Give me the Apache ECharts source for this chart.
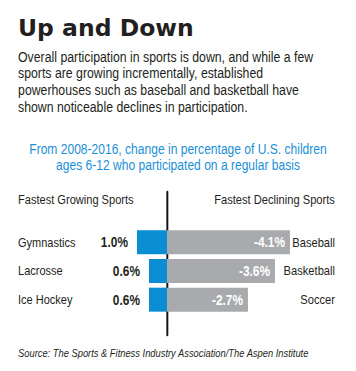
<!DOCTYPE html>
<html>
<head>
<meta charset="utf-8">
<script src="https://cdn.jsdelivr.net/npm/echarts@6/dist/echarts.min.js"></script>
<style>
html,body{margin:0;padding:0;background:#fff;overflow:hidden;width:356px;height:371px;}
#c{width:434px;height:371px;transform:scaleX(0.82028);transform-origin:0 0;}
</style>
</head>
<body>
<div id="c"></div>
<script>
const growingSports = ['Gymnastics', 'Lacrosse', 'Ice Hockey'];
const growthValues = [1.0, 0.6, 0.6];
const decliningSports = ['Baseball', 'Basketball', 'Soccer'];
const declineValues = [-4.1, -3.6, -2.7];

// the page is drawn 434px wide and squeezed to 356px to imitate the condensed type
const SX = 356 / 434;
const FONT = '"Liberation Sans", Arial, sans-serif';
const DARK = '#231f20';
const BLUE = '#0a8dd3';
const GRAY = '#a9aaad';

const chart = echarts.init(document.getElementById('c'), null, {renderer: 'svg', width: 434, height: 371});
chart.setOption({
  backgroundColor: '#fff',
  animation: false,
  graphic: [
    {type: 'text', x: 22, y: 16, scaleX: 1 / SX,
     style: {text: 'Up and Down', fontFamily: '"DejaVu Sans", sans-serif', fontWeight: 'bold', fontSize: 23.5, fill: DARK}}
  ],
  title: [
    {text: 'Overall participation in sports is down, and while a few\nsports are growing incrementally, established\npowerhouses such as baseball and basketball have\nshown noticeable declines in participation.',
     left: 22, top: 48.5, padding: 0,
     textStyle: {fontFamily: FONT, fontWeight: 'normal', fontSize: 15, color: DARK, lineHeight: 16.7}},
    {text: 'From 2008-2016, change in percentage of U.S. children\nages 6-12 who participated on a regular basis',
     left: 'center', top: 140.5, padding: 0,
     textStyle: {fontFamily: FONT, fontWeight: 'normal', fontSize: 14.7, color: '#1b8fd8', lineHeight: 16.4, align: 'center'}},
    {text: 'Fastest Growing Sports', left: 22, top: 192, padding: 0,
     textStyle: {fontFamily: FONT, fontWeight: 'normal', fontSize: 13.5, color: DARK, lineHeight: 16}},
    {text: 'Fastest Declining Sports', right: 25.6, top: 192, padding: 0,
     textStyle: {fontFamily: FONT, fontWeight: 'normal', fontSize: 13.6, color: DARK, lineHeight: 16}},
    {text: 'Source: The Sports & Fitness Industry Association/The Aspen Institute', left: 22, top: 346.5, padding: 0,
     textStyle: {fontFamily: FONT, fontStyle: 'italic', fontWeight: 'normal', fontSize: 11.4, color: DARK, lineHeight: 14}}
  ],
  grid: [
    {left: 20.7, width: 365.7, top: 228, height: 86, containLabel: false},
    {left: 20.7, width: 365.7, top: 192, height: 143, containLabel: false}
  ],
  xAxis: [
    {type: 'value', gridIndex: 0, min: -5, max: 5, show: false},
    {type: 'value', gridIndex: 1, min: -5, max: 5, show: false}
  ],
  yAxis: [
    {type: 'category', gridIndex: 0, data: growingSports, inverse: true, position: 'left',
     axisLine: {show: false, onZero: false}, axisTick: {show: false}, splitLine: {show: false},
     axisLabel: {align: 'left', margin: -1.3, fontFamily: FONT, fontSize: 13.4, color: DARK}},
    {type: 'category', gridIndex: 0, data: decliningSports, inverse: true, position: 'right',
     axisLine: {show: false, onZero: false}, axisTick: {show: false}, splitLine: {show: false},
     axisLabel: {align: 'right', margin: 22, fontFamily: FONT, fontSize: 13.6, color: DARK}},
    {type: 'value', gridIndex: 1, min: 0, max: 1,
     axisLine: {show: true, onZero: true, lineStyle: {color: '#111', width: 2.4}},
     axisTick: {show: false}, axisLabel: {show: false}, splitLine: {show: false}}
  ],
  series: [
    {type: 'bar', xAxisIndex: 0, yAxisIndex: 0, barWidth: 24, barGap: '-100%',
     data: growthValues.map(v => -v),
     itemStyle: {color: BLUE},
     label: {show: true, position: 'left', distance: 11, fontFamily: FONT, fontWeight: 'bold', fontSize: 14.5, color: DARK,
       formatter: p => growthValues[p.dataIndex].toFixed(1) + '%'}},
    {type: 'bar', xAxisIndex: 0, yAxisIndex: 0, barWidth: 24, barGap: '-100%',
     data: declineValues.map(v => -v),
     itemStyle: {color: GRAY},
     label: {show: true, position: 'insideRight', distance: 6, fontFamily: FONT, fontWeight: 'bold', fontSize: 14.5, color: '#fff',
       formatter: p => declineValues[p.dataIndex].toFixed(1) + '%'}}
  ]
});
</script>
</body>
</html>
